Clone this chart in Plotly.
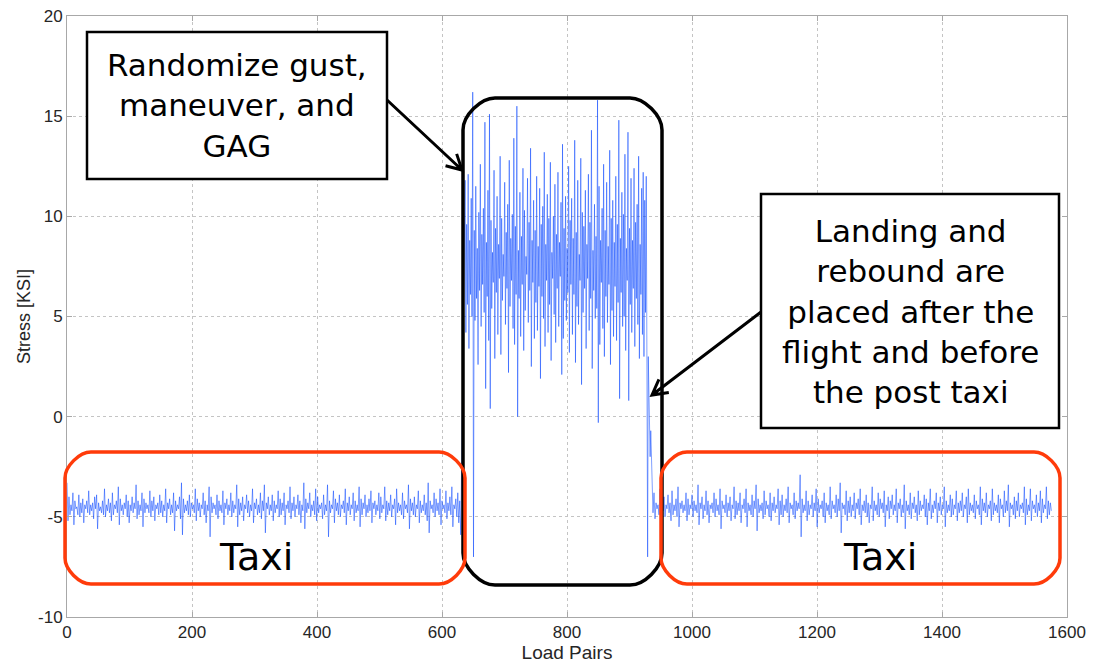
import numpy as np
import plotly.graph_objects as go

# Stress history of one flight: pre-flight taxi, flight block, landing/rebound, post taxi.
# Each list holds alternating peak / valley stresses [KSI].

taxi_out_range = (0, 630)
taxi_out = [
    -3.3, -5.2, -4.0, -4.9, -4.4, -4.7, -3.8, -5.4, -4.2, -4.6, -4.5, -4.9, -3.9, -5.0, -4.3, -4.8, -4.1, -5.3, -4.4, -4.6,
    -4.2, -4.8, -3.7, -4.9, -4.4, -4.7, -4.3, -5.1, -4.0, -4.6, -3.9, -5.6, -4.3, -4.7, -4.5, -4.8, -4.2, -4.9, -3.6, -5.0,
    -4.4, -4.7, -4.1, -4.8, -4.3, -5.2, -3.8, -4.9, -4.4, -4.6, -4.2, -4.8, -3.5, -5.4, -4.1, -4.7, -4.4, -4.9, -4.3, -4.6,
    -3.9, -5.0, -4.2, -5.3, -4.4, -4.7, -4.0, -4.8, -4.3, -4.6, -3.4, -5.1, -4.2, -4.9, -4.4, -4.7, -3.8, -5.5, -4.1, -4.8,
    -4.3, -4.6, -4.4, -4.8, -3.7, -5.0, -4.2, -4.7, -4.0, -5.2, -4.4, -4.6, -4.3, -4.9, -3.9, -4.8, -4.2, -5.0, -4.4, -4.7,
    -3.6, -5.3, -4.3, -4.6, -4.1, -4.9, -4.4, -4.8, -3.8, -5.7, -4.2, -4.7, -4.4, -4.6, -4.0, -5.1, -3.3, -5.9, -4.1, -4.8,
    -4.4, -4.7, -4.2, -4.9, -3.9, -5.0, -4.3, -4.6, -4.4, -4.8, -3.6, -5.2, -4.1, -4.7, -4.3, -5.0, -4.4, -4.6, -3.8, -4.9,
    -4.2, -5.3, -4.4, -4.7, -3.5, -6.0, -4.0, -4.8, -4.3, -4.6, -4.4, -4.9, -3.9, -5.1, -4.2, -4.7, -4.4, -4.8, -3.7, -5.4,
    -4.3, -4.6, -4.1, -4.9, -4.4, -4.7, -3.8, -5.0, -4.2, -4.8, -4.4, -4.6, -3.4, -5.5, -4.1, -4.9, -4.3, -4.7, -4.0, -5.2,
    -4.4, -4.6, -3.9, -4.8, -4.2, -5.0, -4.4, -4.7, -3.6, -5.3, -4.3, -4.6, -4.1, -4.9, -4.4, -4.8, -3.8, -5.1, -4.2, -4.7,
    -3.4, -5.8, -4.3, -4.6, -4.0, -4.9, -4.4, -4.7, -3.9, -5.2, -4.2, -4.8, -4.4, -4.6, -3.7, -5.0, -4.1, -4.9, -4.3, -4.7,
    -3.8, -5.4, -4.4, -4.6, -4.2, -4.8, -3.5, -5.1, -4.3, -4.7, -4.0, -5.0, -4.4, -4.6, -3.9, -4.9, -4.2, -5.3, -4.4, -4.7,
    -3.3, -5.6, -4.1, -4.8, -4.3, -4.6, -3.8, -5.0, -4.4, -4.7, -4.2, -4.9, -3.6, -5.2, -4.0, -4.8, -4.4, -4.6, -4.3, -5.1,
    -3.9, -4.9, -4.4, -4.7, -3.4, -6.0, -4.2, -4.8, -4.4, -4.6, -3.7, -5.3, -4.1, -4.7, -4.3, -4.9, -3.9, -5.0, -4.4, -4.6,
    -4.2, -4.8, -3.6, -5.4, -4.3, -4.7, -4.0, -4.9, -4.4, -4.6, -3.8, -5.2, -4.2, -4.8, -4.4, -4.7, -3.5, -5.5, -4.1, -4.9,
    -4.3, -4.6, -3.9, -5.0, -4.4, -4.8, -4.1, -4.7, -3.7, -5.3, -4.3, -4.6, -4.2, -4.9, -4.4, -4.7, -3.8, -5.1, -4.0, -4.8,
    -4.4, -4.6, -3.5, -5.2, -4.2, -4.9, -4.3, -4.7, -3.9, -5.0, -4.4, -4.6, -4.1, -5.4, -3.6, -4.8, -4.3, -4.7, -4.4, -4.9,
    -3.8, -5.1, -4.2, -4.6, -4.4, -4.8, -3.4, -5.6, -4.1, -4.7, -4.3, -4.9, -4.0, -5.0, -4.4, -4.6, -3.7, -5.3, -4.2, -4.8,
    -4.4, -4.7, -3.9, -4.9, -4.3, -5.2, -3.3, -5.8, -4.2, -4.6, -4.4, -4.8, -3.8, -5.0, -4.1, -4.7, -4.3, -4.9, -3.6, -5.4,
    -4.2, -4.6, -4.4, -4.8, -3.7, -5.1, -4.3, -4.7, -4.0, -4.9, -3.5, -5.5, -4.4, -4.6, -4.1, -5.0, -3.8, -5.3, -4.2, -5.9,
]

flight_range = (637, 928)
flight = [
    11.8, 4.2, 9.6, 5.6, 12.1, 3.4, 8.8, 6.1, 10.9, 5.0, 16.2, -7.0, 9.3, 4.8, 11.5, 5.9, 8.4, 2.6, 10.2, 6.3,
    12.6, 4.5, 9.1, 6.6, 10.4, 5.2, 14.7, 1.4, 8.7, 6.0, 11.3, 3.8, 15.1, 0.4, 9.8, 5.4, 8.2, 6.7, 12.3, 2.9,
    9.4, 6.2, 11.0, 4.1, 8.6, 6.9, 13.0, 3.1, 9.9, 5.8, 8.1, 7.0, 11.7, 4.6, 9.2, 6.4, 10.6, 2.2, 12.8, 5.5,
    8.9, 6.8, 10.1, 4.4, 13.9, 3.6, 9.5, 6.1, 15.5, 0.0, 8.3, 5.9, 11.2, 4.0, 9.0, 6.6, 12.4, 3.3, 10.3, 5.3,
    8.0, 7.1, 11.9, 4.7, 9.7, 6.3, 13.4, 2.5, 8.8, 6.7, 10.8, 3.9, 9.3, 5.7, 12.0, 4.3, 8.5, 6.5, 11.4, 1.9,
    9.6, 6.0, 10.5, 4.9, 13.2, 3.5, 8.6, 6.8, 11.1, 4.2, 9.9, 5.6, 12.7, 2.8, 8.2, 6.9, 10.0, 5.1, 11.6, 3.7,
    9.1, 6.4, 12.2, 4.5, 8.7, 7.0, 10.7, 2.1, 13.6, 3.9, 9.4, 5.8, 11.0, 4.8, 8.4, 6.2, 12.5, 3.2, 9.8, 6.6,
    10.9, 4.1, 8.9, 6.1, 13.8, 2.7, 9.2, 5.5, 11.8, 4.6, 8.1, 6.8, 12.9, 1.6, 10.2, 5.2, 9.5, 6.4, 11.3, 3.4,
    8.6, 6.9, 12.1, 4.3, 9.7, 5.9, 14.3, 2.4, 8.3, 6.3, 10.6, 4.9, 9.0, 5.4, 15.8, -0.3, 11.5, 3.6, 8.8, 6.7,
    10.4, 4.4, 12.6, 3.0, 9.3, 6.0, 11.7, 4.7, 8.5, 6.6, 13.3, 2.6, 9.9, 5.3, 10.8, 4.0, 8.7, 6.5, 12.0, 3.8,
    9.6, 5.7, 14.8, 0.9, 8.9, 6.2, 11.2, 4.5, 10.1, 5.0, 13.1, 3.3, 8.4, 6.8, 14.2, 0.8, 9.4, 5.6, 11.9, 4.2,
    8.8, 6.4, 12.4, 3.5, 9.7, 5.9, 10.6, 4.6, 13.0, 2.9, 8.6, 6.1, 11.4, 4.1, 12.2, 3.0, 10.8, 5.2, 12.0, 3.8,
]

landing_range = (929, 934)
landing = [-7.0, 3.0, 1.1, -0.6, -2.0, -0.7]

taxi_in_range = (936, 1575)
taxi_in = [
    -4.1, -4.8, -3.8, -5.1, -4.3, -4.6, -4.4, -4.9, -3.6, -5.3, -4.2, -4.7, -4.0, -5.0, -4.4, -4.6, -3.9, -4.8, -4.3, -5.2,
    -3.7, -4.9, -4.4, -4.7, -4.1, -5.0, -3.5, -5.5, -4.3, -4.6, -4.2, -4.8, -4.4, -4.7, -3.8, -5.2, -4.1, -4.9, -4.4, -4.6,
    -3.9, -5.0, -4.2, -4.7, -4.4, -4.8, -3.4, -5.4, -4.3, -4.6, -4.0, -5.1, -4.4, -4.7, -3.7, -4.9, -4.2, -5.3, -4.4, -4.6,
    -4.3, -4.8, -3.8, -5.0, -4.1, -4.7, -4.4, -4.9, -3.6, -5.6, -4.2, -4.6, -4.4, -4.8, -3.9, -5.0, -4.3, -4.7, -4.0, -5.2,
    -4.4, -4.6, -3.5, -5.1, -4.2, -4.9, -4.3, -4.7, -3.8, -5.3, -4.4, -4.6, -4.1, -4.8, -3.6, -5.5, -4.3, -4.7, -4.4, -4.9,
    -3.9, -5.0, -4.2, -4.6, -3.4, -5.7, -4.1, -4.8, -4.4, -4.7, -4.3, -5.1, -3.7, -4.9, -4.2, -4.6, -4.4, -5.0, -3.8, -5.2,
    -4.3, -4.7, -4.0, -4.8, -4.4, -4.6, -3.6, -5.4, -4.2, -4.9, -3.9, -5.0, -4.4, -4.7, -4.1, -4.8, -3.5, -5.3, -4.3, -4.6,
    -4.4, -4.9, -3.8, -5.1, -4.2, -4.7, -4.3, -4.6, -2.9, -6.0, -4.1, -4.8, -4.4, -4.7, -3.7, -5.2, -4.2, -4.9, -4.4, -4.6,
    -3.9, -5.0, -4.3, -4.7, -3.6, -5.5, -4.1, -4.8, -4.4, -4.6, -4.2, -5.0, -3.8, -5.3, -4.3, -4.7, -4.4, -4.9, -3.5, -5.1,
    -4.2, -4.6, -4.4, -4.8, -3.9, -5.0, -4.1, -4.7, -3.3, -5.8, -4.3, -4.6, -4.4, -4.9, -3.7, -5.2, -4.2, -4.8, -4.0, -5.0,
    -4.4, -4.7, -3.8, -5.1, -4.3, -4.6, -4.1, -4.9, -3.6, -5.4, -4.4, -4.7, -4.2, -4.8, -3.9, -5.0, -4.3, -5.3, -4.4, -4.6,
    -3.5, -5.2, -4.2, -4.7, -4.4, -4.9, -3.8, -5.0, -4.1, -4.6, -4.3, -4.8, -3.7, -5.5, -4.4, -4.7, -4.0, -5.1, -4.2, -4.6,
    -3.9, -4.9, -4.4, -4.7, -3.6, -5.3, -4.3, -4.6, -4.1, -5.0, -4.4, -4.8, -3.4, -5.6, -4.2, -4.7, -4.4, -4.9, -3.8, -5.1,
    -4.3, -4.6, -4.0, -4.8, -4.4, -5.2, -3.7, -4.9, -4.2, -4.7, -4.4, -4.6, -3.9, -5.0, -4.1, -5.4, -4.3, -4.7, -3.6, -5.1,
    -4.4, -4.8, -4.2, -4.6, -3.8, -5.3, -4.3, -4.7, -4.0, -4.9, -4.4, -4.6, -3.5, -5.5, -4.2, -4.8, -4.4, -4.7, -3.9, -5.0,
    -4.1, -4.9, -4.4, -4.6, -3.7, -5.2, -4.3, -4.8, -4.2, -4.7, -3.8, -5.0, -4.4, -4.6, -4.0, -5.3, -3.6, -4.9, -4.3, -4.7,
    -4.4, -4.8, -3.9, -5.1, -4.2, -4.6, -4.4, -4.9, -3.5, -5.4, -4.1, -4.7, -4.3, -4.8, -3.8, -5.0, -4.4, -4.6, -4.2, -5.2,
    -3.6, -4.9, -4.3, -4.7, -4.4, -4.8, -3.9, -5.3, -4.1, -4.6, -4.4, -5.0, -3.7, -4.8, -4.2, -4.7, -3.4, -5.5, -4.3, -4.6,
    -4.4, -4.9, -4.0, -5.1, -4.2, -4.7, -3.8, -5.0, -4.4, -4.6, -4.3, -4.8, -3.5, -5.4, -4.1, -4.9, -4.4, -4.7, -3.6, -5.2,
    -4.2, -4.6, -4.4, -4.8, -3.9, -5.0, -4.3, -4.7, -3.7, -5.3, -4.1, -4.8, -4.4, -4.6, -3.5, -5.1, -4.2, -4.9, -4.3, -4.7,
]

x_ticks = [0, 200, 400, 600, 800, 1000, 1200, 1400, 1600]
y_ticks = [-10, -5, 0, 5, 10, 15, 20]

segments = [
    (taxi_out_range, taxi_out),
    (flight_range, flight),
    (landing_range, landing),
    (taxi_in_range, taxi_in),
]
xs, ys = [], []
for (x0, x1), vals in segments:
    xs.append(np.linspace(x0, x1, len(vals)))
    ys.append(np.asarray(vals, dtype=float))
x_all = np.concatenate(xs)
y_all = np.concatenate(ys)

W, H = 1096, 671
ML, MR, MT, MB = 67, 29, 16, 54
PW, PH = W - ML - MR, H - MT - MB


def px(xp, yp):
    """Pixel position on the page -> paper coordinates."""
    return (xp - ML) / PW, (H - MB - yp) / PH


def pt(xp, yp):
    a, b = px(xp, yp)
    return f"{a:.5f},{b:.5f}"


def rounded_box(x0, y0, x1, y1, r):
    k = 0.45 * r
    return (
        f"M{pt(x0 + r, y0)} L{pt(x1 - r, y0)} "
        f"C{pt(x1 - r + k, y0)} {pt(x1, y0 + r - k)} {pt(x1, y0 + r)} "
        f"L{pt(x1, y1 - r)} "
        f"C{pt(x1, y1 - r + k)} {pt(x1 - r + k, y1)} {pt(x1 - r, y1)} "
        f"L{pt(x0 + r, y1)} "
        f"C{pt(x0 + r - k, y1)} {pt(x0, y1 - r + k)} {pt(x0, y1 - r)} "
        f"L{pt(x0, y0 + r)} "
        f"C{pt(x0, y0 + r - k)} {pt(x0 + r - k, y0)} {pt(x0 + r, y0)} Z"
    )


def arrow_path(xa, ya, xb, yb, head=17, spread=0.5):
    ang = np.arctan2(yb - ya, xb - xa)
    p1 = (xb - head * np.cos(ang - spread), yb - head * np.sin(ang - spread))
    p2 = (xb - head * np.cos(ang + spread), yb - head * np.sin(ang + spread))
    return (
        f"M{pt(xa, ya)} L{pt(xb, yb)} "
        f"M{pt(*p1)} L{pt(xb, yb)} L{pt(*p2)}"
    )


fig = go.Figure()
fig.add_trace(go.Scatter(
    x=x_all, y=y_all, mode="lines",
    line=dict(color="rgb(0,64,255)", width=0.5),
    showlegend=False, hoverinfo="skip",
))

shapes = []
# flight block outline
shapes.append(dict(type="path", xref="paper", yref="paper", layer="above",
                   path=rounded_box(463, 98, 662, 585, 32),
                   line=dict(color="black", width=3.5)))
# taxi outlines
for bx0, bx1 in [(65, 465), (661, 1060)]:
    shapes.append(dict(type="path", xref="paper", yref="paper", layer="above",
                       path=rounded_box(bx0, 452, bx1, 584, 26),
                       line=dict(color="#ff3b0a", width=3.5)))
# text boxes
for (bx0, by0, bx1, by1) in [(87, 32, 387, 179), (761, 194, 1059, 428)]:
    a0, b1 = px(bx0, by0)
    a1, b0 = px(bx1, by1)
    shapes.append(dict(type="rect", xref="paper", yref="paper", layer="above",
                       x0=a0, x1=a1, y0=b0, y1=b1, fillcolor="white",
                       line=dict(color="black", width=2.5)))
# pointers
shapes.append(dict(type="path", xref="paper", yref="paper", layer="above",
                   path=arrow_path(387, 100, 462, 170),
                   line=dict(color="black", width=3)))
shapes.append(dict(type="path", xref="paper", yref="paper", layer="above",
                   path=arrow_path(761, 312, 652, 395),
                   line=dict(color="black", width=3)))

box_font = dict(family="DejaVu Sans", size=31, color="black")
annotations = []
for text, (cx, cy) in [
    ("Randomize gust,<br>maneuver, and<br>GAG", (237, 106)),
    ("Landing and<br>rebound are<br>placed after the<br>flight and before<br>the post taxi", (910, 311)),
]:
    a, b = px(cx, cy)
    annotations.append(dict(x=a, y=b, xref="paper", yref="paper", text=text,
                            showarrow=False, font=box_font, align="center",
                            xanchor="center", yanchor="middle"))
for cx in (256, 880):
    a, b = px(cx, 557)
    annotations.append(dict(x=a, y=b, xref="paper", yref="paper", text="Taxi",
                            showarrow=False,
                            font=dict(family="DejaVu Sans", size=38, color="black"),
                            xanchor="center", yanchor="middle"))

axis_common = dict(
    showline=True, linecolor="#a8a8a8", linewidth=1, mirror="ticks",
    ticks="inside", ticklen=5, tickcolor="#a8a8a8",
    showgrid=True, gridcolor="#c4c4c4", griddash="dot", gridwidth=1,
    zeroline=False,
    tickfont=dict(family="Liberation Sans", size=17, color="#262626"),
)

fig.update_layout(
    width=W, height=H,
    margin=dict(l=ML, r=MR, t=MT, b=MB),
    paper_bgcolor="white", plot_bgcolor="white",
    xaxis=dict(range=[0, 1600], tickvals=x_ticks, ticktext=[str(v) for v in x_ticks],
               title=dict(text="Load Pairs", standoff=3,
                          font=dict(family="Liberation Sans", size=19, color="#262626")),
               automargin=False, **axis_common),
    yaxis=dict(range=[-10, 20], tickvals=y_ticks, ticktext=[str(v) for v in y_ticks],
               title=dict(text="Stress [KSI]", standoff=2,
                          font=dict(family="Liberation Sans", size=18, color="#262626")),
               automargin=False, **axis_common),
    shapes=shapes,
    annotations=annotations,
)

fig.write_html("out.html")
